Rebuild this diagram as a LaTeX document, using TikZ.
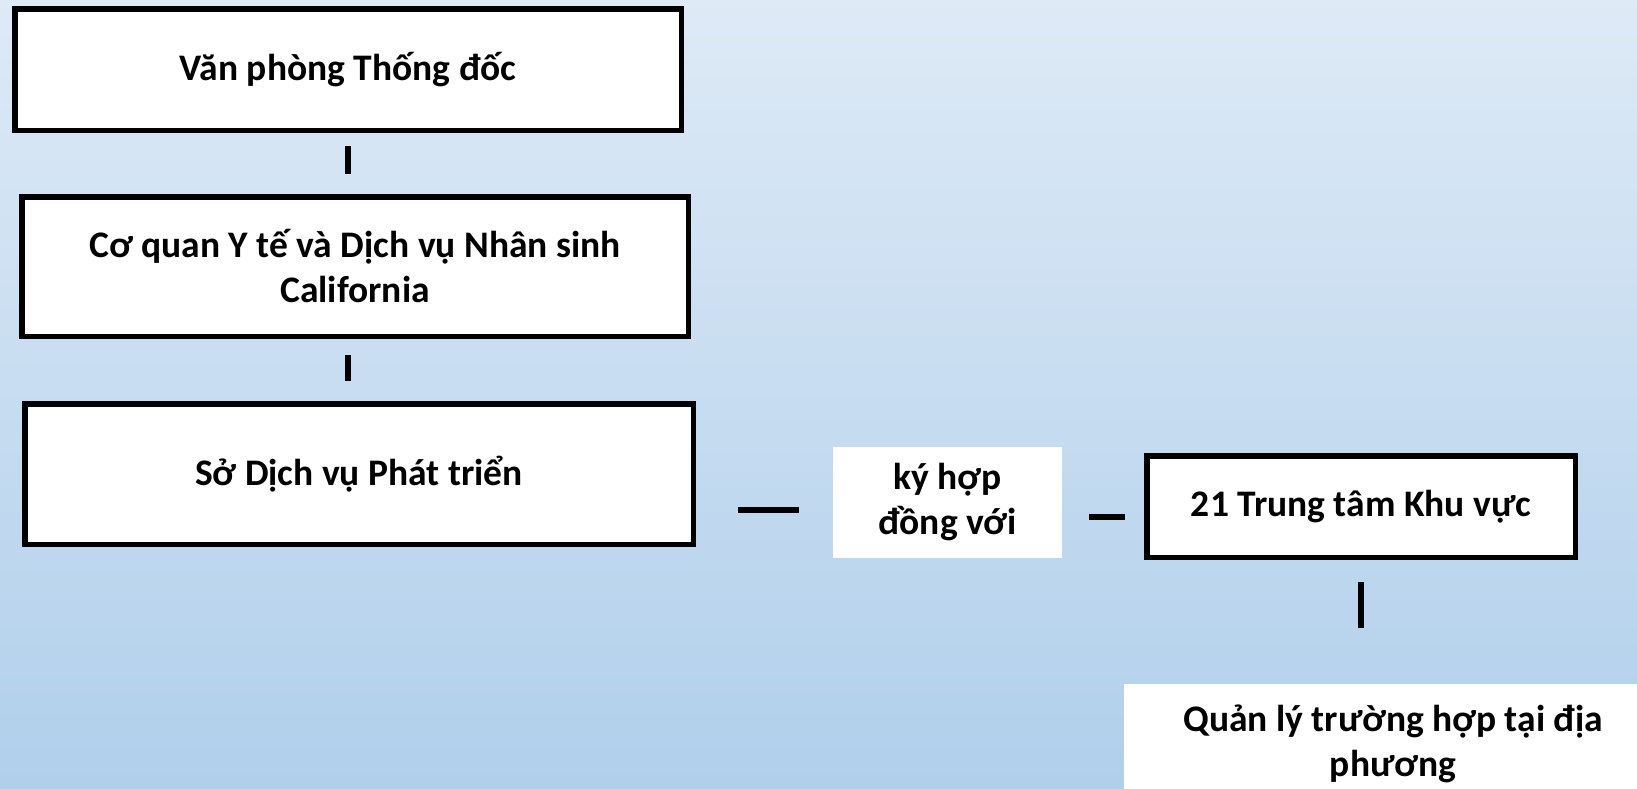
\documentclass[tikz,border=0pt]{standalone}
\usepackage{fontspec}
\setmainfont{Carlito}
\definecolor{bgtop}{RGB}{222,234,246}
\definecolor{bgbottom}{RGB}{176,207,235}
\begin{document}
\begin{tikzpicture}
[x=1pt,y=-1pt,
 boxdecorate/.style={shape=rectangle,draw,fill=white,line width=5.5pt,inner sep=0pt,align=center,font=\fontsize{37.5}{45}\selectfont\bfseries},%
 plaindecorate/.style={shape=rectangle,fill=white,inner sep=0pt,align=center,font=\fontsize{37.5}{45}\selectfont\bfseries},%
 linedecorate/.style={line width=5.5pt}]
\useasboundingbox (0,0) rectangle (1637,788);
\clip (0,0) rectangle (1637,788);
\shade[top color=bgtop,bottom color=bgbottom] (0,0) rectangle (1637,788);
% boxes
\node (gov) at (348,69.5) [boxdecorate,minimum width=666.5pt,minimum height=121.5pt] {Văn phòng Thống đốc};
\node (chhs) at (355,266.5) [boxdecorate,minimum width=666.5pt,minimum height=139.5pt] {Cơ quan Y tế và Dịch vụ Nhân sinh\\California};
\node (dds) at (359,474) [boxdecorate,minimum width=668.5pt,minimum height=140.5pt] {Sở Dịch vụ Phát triển};
\node (link) at (947.5,502.5) [plaindecorate,minimum width=229pt,minimum height=111pt] {ký hợp\\đồng với};
\node (rc) at (1361,506.5) [boxdecorate,minimum width=428.5pt,minimum height=101.5pt] {21 Trung tâm Khu vực};
\node (local) at (1393,743.5) [plaindecorate,minimum width=538pt,minimum height=119pt] {Quản lý trường hợp tại địa\\phương};
% lines
\draw[linedecorate,shorten <=13pt,shorten >=20pt] (gov.south) -- (gov.south |- chhs.north);
\draw[linedecorate,shorten <=16pt,shorten >=20pt] (chhs.south -| gov.south) -- (dds.north -| gov.south);
\draw[linedecorate,shorten <=42pt,shorten >=34pt] (dds.east |- 0,510) -- (link.west |- 0,510);
\draw[linedecorate,shorten <=27pt,shorten >=19pt] (link.east |- 0,517) -- (rc.west |- 0,517);
\draw[linedecorate,shorten <=22pt,shorten >=56pt] (rc.south) -- (rc.south |- local.north);
\end{tikzpicture}
\end{document}
